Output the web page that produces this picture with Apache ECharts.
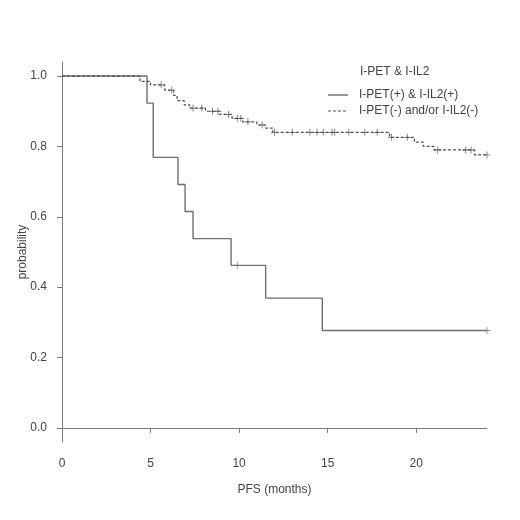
<!DOCTYPE html>
<html>
<head>
<meta charset="utf-8">
<title>PFS by I-PET & I-IL2</title>
<script src="https://cdn.jsdelivr.net/npm/echarts@6/dist/echarts.min.js"></script>
<style>
  html, body { margin: 0; padding: 0; background: #fff; }
  #main { width: 520px; height: 520px; }
</style>
</head>
<body>
<div id="main"></div>
<script>
// I-PET(+) & I-IL2(+) : step times (months) and survival after each step
var posTime = [0, 4.8, 5.15, 6.55, 6.95, 7.4, 9.55, 11.5, 14.7, 24];
var posSurv = [1, 0.923, 0.769, 0.692, 0.615, 0.538, 0.462, 0.369, 0.277, 0.277];
var posCensor = [9.9, 24];

// I-PET(-) and/or I-IL2(-)
var negTime = [0, 4.4, 5.0, 5.8, 6.3, 6.5, 6.9, 7.2, 8.1, 8.9, 9.6, 10.2, 11.0, 11.5, 11.9, 18.5, 19.9, 20.4, 21.0, 23.3, 24];
var negSurv = [1, 0.985, 0.975, 0.96, 0.945, 0.93, 0.918, 0.909, 0.9, 0.891, 0.88, 0.87, 0.861, 0.852, 0.84, 0.826, 0.812, 0.8, 0.79, 0.776, 0.776];
var negCensor = [5.6, 6.2, 7.4, 7.9, 8.5, 8.8, 9.4, 9.9, 10.1, 10.5, 11.3, 12.0, 13.0, 14.0, 14.4, 14.75, 15.25, 15.4, 16.2, 17.1, 17.8, 18.6, 19.5, 21.2, 22.8, 23.1, 24];

var xTicks = [0, 5, 10, 15, 20];
var yTicks = [0, 0.2, 0.4, 0.6, 0.8, 1.0];

var legendTitle = 'I-PET & I-IL2';
var posName = 'I-PET(+) & I-IL2(+)';
var negName = 'I-PET(-) and/or I-IL2(-)';

function pairs(t, s) {
  return t.map(function (v, i) { return [v, s[i]]; });
}
// value of the step curve at time x (for placing censor marks)
function survAt(t, s, x) {
  var v = s[0];
  for (var i = 0; i < t.length; i++) {
    if (t[i] <= x) v = s[i];
  }
  return v;
}
function censorPts(c, t, s) {
  return c.map(function (x) { return [x, survAt(t, s, x)]; });
}

var font = 'Liberation Sans, Arial, sans-serif';
var txt = '#444';
var axisCol = '#7a7a7a';
var posCol = '#6e6e6e';
var negCol = '#505050';
var plus = 'path://M4.4,0h1.2v10h-1.2zM0,4.4h10v1.2h-10z';

var chart = echarts.init(document.getElementById('main'));
chart.setOption({
  backgroundColor: '#fff',
  animation: false,
  textStyle: { fontFamily: font },
  title: {
    text: legendTitle,
    left: 360, top: 66,
    padding: 0,
    textStyle: { fontSize: 12, fontWeight: 'normal', color: txt, fontFamily: font }
  },
  legend: {
    data: [
      { name: posName, icon: 'none' },
      { name: negName, icon: 'none' }
    ],
    orient: 'vertical',
    left: 327, top: 88,
    padding: 0,
    itemWidth: 21, itemHeight: 14, itemGap: 3,
    textStyle: { fontSize: 12, color: txt, fontFamily: font, padding: [0, 0, 0, 6] }
  },
  // legend line samples
  graphic: [
    { type: 'line', shape: { x1: 328, y1: 95, x2: 348, y2: 95 }, style: { stroke: posCol, lineWidth: 1.4 } },
    { type: 'line', shape: { x1: 328, y1: 111, x2: 348, y2: 111 }, style: { stroke: negCol, lineWidth: 1.2, lineDash: [3, 2] } }
  ],
  grid: { left: 62, right: 33, top: 62, bottom: 78 },
  xAxis: {
    type: 'value',
    min: 0, max: 24,
    name: 'PFS (months)',
    nameLocation: 'middle',
    nameGap: 42,
    nameMoveOverlap: false,
    nameTextStyle: { fontSize: 12, color: txt },
    axisLine: { show: true, lineStyle: { color: axisCol, width: 1 } },
    axisTick: { show: true, length: 5, customValues: xTicks, lineStyle: { color: axisCol } },
    axisLabel: { customValues: xTicks, margin: 16, fontSize: 12, color: txt },
    splitLine: { show: false }
  },
  yAxis: {
    type: 'value',
    min: -0.04, max: 1.04,
    name: 'probability',
    nameLocation: 'middle',
    nameGap: 33,
    nameMoveOverlap: false,
    nameTextStyle: { fontSize: 12, color: txt },
    axisLine: { show: true, lineStyle: { color: axisCol, width: 1 } },
    axisTick: { show: true, length: 5, customValues: yTicks, lineStyle: { color: axisCol } },
    axisLabel: {
      customValues: yTicks, margin: 15, fontSize: 12, color: txt,
      formatter: function (v) { return v.toFixed(1); }
    },
    splitLine: { show: false }
  },
  series: [
    {
      name: posName,
      type: 'line',
      step: 'end',
      symbol: 'none',
      color: posCol,
      lineStyle: { color: posCol, width: 1.4 },
      data: pairs(posTime, posSurv)
    },
    {
      name: negName,
      type: 'line',
      step: 'end',
      symbol: 'none',
      color: negCol,
      lineStyle: { color: negCol, width: 1.2, type: [3, 2] },
      data: pairs(negTime, negSurv)
    },
    {
      name: 'posCensor',
      type: 'scatter',
      symbol: plus,
      symbolSize: 7,
      silent: true,
      itemStyle: { color: posCol },
      data: censorPts(posCensor, posTime, posSurv)
    },
    {
      name: 'negCensor',
      type: 'scatter',
      symbol: plus,
      symbolSize: 7,
      silent: true,
      itemStyle: { color: negCol },
      data: censorPts(negCensor, negTime, negSurv)
    }
  ]
});
</script>
</body>
</html>
